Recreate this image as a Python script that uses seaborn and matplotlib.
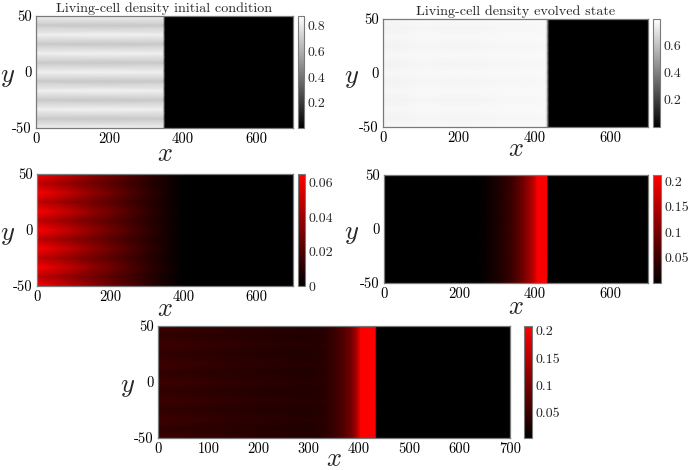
import numpy as np
import seaborn as sns
import matplotlib.pyplot as plt

# stripe pattern across y: +1 light band, -1 dark band
y_nodes = [-50, -41.7, -33.3, -25, -16.7, -8.3, 0, 8.3, 16.7, 25, 33.3, 41.7, 50]
stripe = [1, -1, 1, -1, 1, -1, 1, -1, 1, -1, 1, -1, 1]

# living-cell density, initial condition
u0_x = [0, 346, 352, 700]
u0_mean = [0.755, 0.755, 0.004, 0.004]
u0_amp = [0.07, 0.07, 0.0, 0.0]

# living-cell density, evolved state
u1_x = [0, 100, 200, 300, 430, 435, 439, 700]
u1_mean = [0.755, 0.765, 0.76, 0.765, 0.77, 0.45, 0.003, 0.003]
u1_amp = [0.008, 0.005, 0.006, 0.004, 0.002, 0.0, 0.0, 0.0]

# second field, initial condition
v0_x = [0, 50, 100, 150, 200, 250, 300, 350, 400, 700]
v0_mean = [0.056, 0.049, 0.041, 0.033, 0.026, 0.019, 0.012, 0.006, 0.0005, 0.0]
v0_amp = [0.008, 0.007, 0.006, 0.004, 0.003, 0.002, 0.001, 0.0005, 0.0, 0.0]

# second field, evolved state
v1_x = [0, 230, 260, 294, 320, 338, 360, 374, 390, 400, 406, 432, 435, 700]
v1_mean = [0.001, 0.001, 0.004, 0.02, 0.035, 0.05, 0.08, 0.105, 0.14, 0.17, 0.205, 0.21, 0.001, 0.001]
v1_amp = [0.0] * 14

# third field, evolved state
w1_x = [0, 100, 200, 300, 330, 350, 370, 385, 395, 403, 432, 435, 700]
w1_mean = [0.048, 0.042, 0.036, 0.032, 0.036, 0.05, 0.07, 0.1, 0.14, 0.205, 0.209, 0.004, 0.004]
w1_amp = [0.005, 0.004, 0.003, 0.002, 0.001, 0.0, 0.0, 0.0, 0.0, 0.0, 0.0, 0.0, 0.0]

titles = ["Living-cell density initial condition", "Living-cell density evolved state"]

sns.set_theme(style="white")
plt.rcParams["font.family"] = ["cmr10"]
plt.rcParams["mathtext.fontset"] = "cm"
plt.rcParams["axes.unicode_minus"] = False
plt.rcParams["axes.formatter.use_mathtext"] = True

W, H = 690, 470
gray_map = sns.blend_palette(["black", "white"], as_cmap=True)
red_map = sns.blend_palette(["black", "red"], as_cmap=True)
EDGE = "#7a7a7a"

fig = plt.figure(figsize=(W / 100, H / 100), dpi=100)


def box(l, t, r, b):
    return [l / W, 1 - b / H, (r - l) / W, (b - t) / H]


def panel(pos, cpos, xs, mean, amp, cmap, vmin, vmax, cticks, xticks, title=None,
          ylab_px=None, xlab_py=None):
    l, t, r, b = pos
    ax = fig.add_axes(box(*pos))
    X, Y = np.meshgrid(xs, y_nodes)
    C = np.array(mean)[None, :] + np.outer(stripe, amp)
    mesh = ax.pcolormesh(X, Y, C, shading="gouraud", cmap=cmap, vmin=vmin, vmax=vmax,
                         rasterized=True)
    ax.set_xlim(0, 700)
    ax.set_ylim(-50, 50)
    ax.set_xticks(xticks)
    ax.set_xticklabels([str(v) for v in xticks])
    ax.set_yticks([-50, 0, 50])
    ax.set_yticklabels(["-50", "0", "50"])
    ax.tick_params(direction="in", top=True, right=True, length=3, width=0.6,
                   color="#444444", labelsize=10.5, pad=3, labelcolor="black")
    for s in ax.spines.values():
        s.set_color(EDGE)
        s.set_linewidth(0.9)
    ax.set_xlabel("$x$", fontsize=19, va="center")
    ax.set_ylabel("$y$", fontsize=19, rotation=0, va="center", ha="center")
    ax.yaxis.set_label_coords((ylab_px - l) / (r - l), 0.45)
    ax.xaxis.set_label_coords(0.5, (b - xlab_py) / (b - t))
    if title:
        ax.set_title(title, fontsize=10.2, pad=3)

    cax = fig.add_axes(box(*cpos))
    cb = fig.colorbar(mesh, cax=cax)
    cb.set_ticks(cticks)
    cb.set_ticklabels([f"{v:g}" for v in cticks])
    cb.outline.set_edgecolor(EDGE)
    cb.outline.set_linewidth(0.8)
    cax.tick_params(length=0, labelsize=10, pad=2.5)
    return ax


panel((36, 16, 293, 128), (298, 16, 304, 128), u0_x, u0_mean, u0_amp, gray_map,
      0.004, 0.875, [0.2, 0.4, 0.6, 0.8], [0, 200, 400, 600], titles[0], 8, 154)
panel((383, 19, 648, 127), (653, 19, 660, 127), u1_x, u1_mean, u1_amp, gray_map,
      0.002, 0.79, [0.2, 0.4, 0.6], [0, 200, 400, 600], titles[1], 352, 149)
panel((37, 174, 293, 286), (298, 174, 305, 286), v0_x, v0_mean, v0_amp, red_map,
      0.0, 0.065, [0, 0.02, 0.04, 0.06], [0, 200, 400, 600], None, 8, 309)
panel((384, 175, 648, 283), (653, 175, 661, 283), v1_x, v1_mean, v1_amp, red_map,
      0.001, 0.212, [0.05, 0.1, 0.15, 0.2], [0, 200, 400, 600], None, 352, 307)
panel((158, 326, 510, 438), (524, 326, 532, 438), w1_x, w1_mean, w1_amp, red_map,
      0.004, 0.209, [0.05, 0.1, 0.15, 0.2], list(range(0, 701, 100)), None, 128, 459)

fig.savefig("out.png", dpi=100)
